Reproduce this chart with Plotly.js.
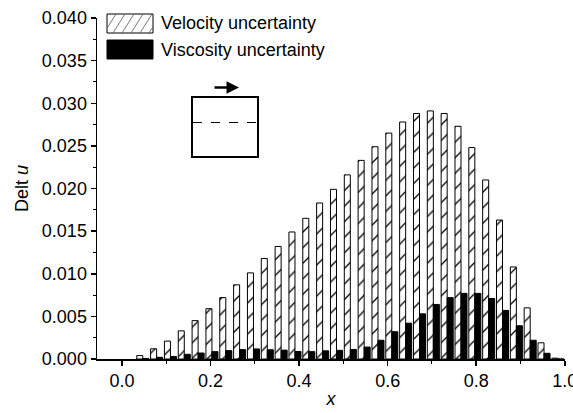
<!DOCTYPE html>
<html>
<head>
<meta charset="utf-8">
<script src="https://cdn.plot.ly/plotly-3.0.1.min.js"></script>
<style>html,body{margin:0;padding:0;background:#fff;}#chart{width:573px;height:413px;}</style>
</head>
<body>
<div id="chart"></div>
<script>
// Group centres along x (cell centres of a 32-cell grid)
var xPos = [0.046875, 0.078125, 0.109375, 0.140625, 0.171875, 0.203125, 0.234375, 0.265625,
            0.296875, 0.328125, 0.359375, 0.390625, 0.421875, 0.453125, 0.484375, 0.515625,
            0.546875, 0.578125, 0.609375, 0.640625, 0.671875, 0.703125, 0.734375, 0.765625,
            0.796875, 0.828125, 0.859375, 0.890625, 0.921875, 0.953125, 0.984375];
var velocityUnc = [0.0004, 0.0012, 0.0021, 0.0033, 0.0045, 0.0059, 0.0072, 0.0087,
                   0.0101, 0.0118, 0.0132, 0.0149, 0.0165, 0.0183, 0.0199, 0.0216,
                   0.0233, 0.0249, 0.0265, 0.0278, 0.0288, 0.0291, 0.0288, 0.0273,
                   0.0248, 0.0210, 0.0163, 0.0108, 0.0060, 0.0019, 0.0001];
var viscosityUnc = [0.00005, 0.0002, 0.0003, 0.00055, 0.0007, 0.00086, 0.00098, 0.0011,
                    0.00118, 0.00108, 0.00104, 0.00088, 0.00086, 0.00096, 0.00102, 0.00112,
                    0.0014, 0.0022, 0.0032, 0.0042, 0.0053, 0.0064, 0.0072, 0.0077,
                    0.0077, 0.0071, 0.0057, 0.0039, 0.0022, 0.00067, 0.0];
var seriesNames = ["Velocity uncertainty", "Viscosity uncertainty"];
var xTitle = "<i>x</i>";
var yTitle = "Delt <i>u</i>";

var FONT = "Arial, 'Liberation Sans', sans-serif";
var FS = 18;
var W = 573, H = 413;
var M = {l: 97, r: 8, t: 18, b: 54};
var PW = W - M.l - M.r, PH = H - M.t - M.b;
function px(x) { return (x - M.l) / PW; }
function py(y) { return (H - M.b - y) / PH; }

var traces = [
  {
    type: "bar", name: seriesNames[0], x: xPos, y: velocityUnc,
    marker: {color: "#fff", line: {color: "#000", width: 1},
             pattern: {shape: "/", fgcolor: "#000", bgcolor: "#fff", size: 11, solidity: 0.12}},
    showlegend: false
  },
  {
    type: "bar", name: seriesNames[1], x: xPos, y: viscosityUnc,
    marker: {color: "#000", line: {color: "#000", width: 1}},
    showlegend: false
  }
];

// custom legend swatches + inset sketch
var shapes = [];
var sx0 = 107, sx1 = 153, sy0 = 14, sy1 = 33;
shapes.push({type: "rect", xref: "paper", yref: "paper", x0: px(sx0), x1: px(sx1), y0: py(sy1), y1: py(sy0),
             fillcolor: "#fff", line: {color: "#000", width: 1}});
var hp = "";
for (var s = sx0 - 12; s < sx1; s += 9) {
  var xa = s, ya = sy1, xb = s + 12, yb = sy0;
  var t0 = 0, t1 = 1;
  if (xa < sx0) t0 = Math.max(t0, (sx0 - xa) / (xb - xa));
  if (xb > sx1) t1 = Math.min(t1, (sx1 - xa) / (xb - xa));
  if (t1 <= t0) continue;
  var X0 = xa + (xb - xa) * t0, Y0 = ya + (yb - ya) * t0;
  var X1 = xa + (xb - xa) * t1, Y1 = ya + (yb - ya) * t1;
  hp += "M" + px(X0) + "," + py(Y0) + " L" + px(X1) + "," + py(Y1) + " ";
}
shapes.push({type: "path", xref: "paper", yref: "paper", path: hp, line: {color: "#555", width: 0.8}});
shapes.push({type: "rect", xref: "paper", yref: "paper", x0: px(107), x1: px(153), y0: py(59), y1: py(40),
             fillcolor: "#000", line: {color: "#000", width: 1}});
// inset box
shapes.push({type: "rect", xref: "paper", yref: "paper", x0: px(192), x1: px(258), y0: py(157), y1: py(97),
             fillcolor: "rgba(0,0,0,0)", line: {color: "#000", width: 2}});
shapes.push({type: "line", xref: "paper", yref: "paper", x0: px(193), x1: px(257), y0: py(122.5), y1: py(122.5),
             line: {color: "#000", width: 1, dash: "dash"}});

var annotations = [
  {xref: "paper", yref: "paper", x: px(159), y: py(23.5), text: seriesNames[0], showarrow: false,
   xanchor: "left", yanchor: "middle", font: {family: FONT, size: FS, color: "#000"}},
  {xref: "paper", yref: "paper", x: px(159), y: py(50), text: seriesNames[1], showarrow: false,
   xanchor: "left", yanchor: "middle", font: {family: FONT, size: FS, color: "#000"}},
  {xref: "paper", yref: "paper", x: px(239), y: py(87.5), ax: -26, ay: 0, text: "", showarrow: true,
   arrowhead: 2, arrowsize: 1, arrowwidth: 2.5, arrowcolor: "#000"}
];

var layout = {
  width: W, height: H,
  margin: M,
  paper_bgcolor: "#fff", plot_bgcolor: "#fff",
  font: {family: FONT, size: FS, color: "#000"},
  barmode: "group", bargap: 0.13, bargroupgap: 0,
  showlegend: false,
  xaxis: {
    range: [-0.0565, 1.0005], showgrid: false, zeroline: false,
    showline: true, linecolor: "#000", linewidth: 1.5, mirror: false,
    ticks: "outside", ticklen: 5, tickwidth: 1.5, tickcolor: "#000",
    dtick: 0.2, tick0: 0, tickformat: ".1f", ticklabeloverflow: "allow",
    tickfont: {family: FONT, size: FS, color: "#000"},
    minor: {dtick: 0.1, ticks: "outside", ticklen: 3, tickwidth: 1, tickcolor: "#000"},
    title: {text: xTitle, font: {family: FONT, size: FS, color: "#000"}, standoff: 2}
  },
  yaxis: {
    range: [0, 0.040], showgrid: false, zeroline: false,
    showline: true, linecolor: "#000", linewidth: 1.5, mirror: false,
    ticks: "outside", ticklen: 5, tickwidth: 1.5, tickcolor: "#000",
    dtick: 0.005, tick0: 0, tickformat: ".3f",
    tickfont: {family: FONT, size: FS, color: "#000"},
    minor: {dtick: 0.0025, ticks: "outside", ticklen: 3, tickwidth: 1, tickcolor: "#000"},
    title: {text: yTitle, font: {family: FONT, size: FS, color: "#000"}, standoff: 8}
  },
  shapes: shapes,
  annotations: annotations
};

Plotly.newPlot("chart", traces, layout, {displayModeBar: false, staticPlot: true});
</script>
</body>
</html>
